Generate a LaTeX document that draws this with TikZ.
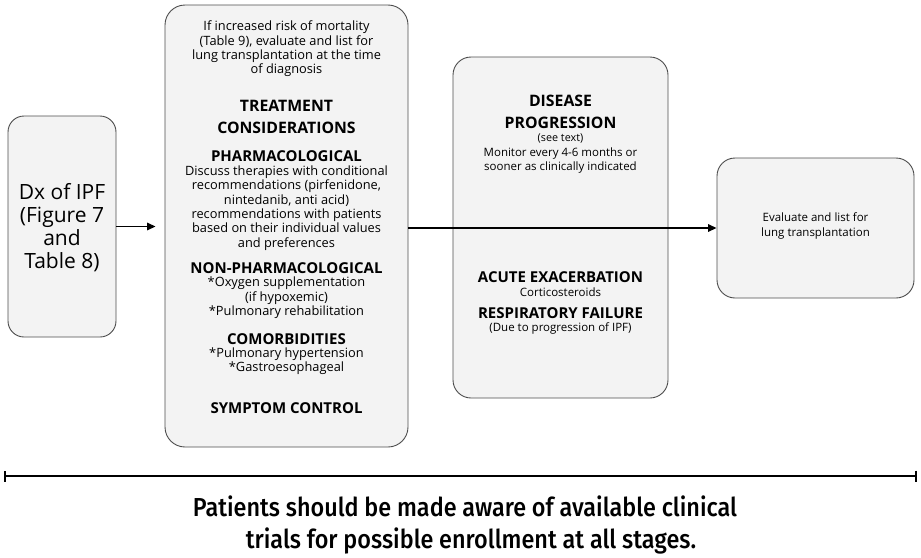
\documentclass[tikz,border=0pt]{standalone}
\usepackage{fontspec}
\setmainfont{Open Sans}
\newfontfamily\condfont{Fira Sans}[UprightFont=* Medium, FakeStretch=0.9]
\usetikzlibrary{arrows.meta}
\definecolor{boxfill}{HTML}{F3F3F3}
\definecolor{boxline}{HTML}{4D4D4D}
\tikzset{
  box/.style={draw=boxline, fill=boxfill, line width=0.9pt, inner sep=0pt},
  body/.style={align=center, font=\fontsize{12.8}{14.4}\selectfont, inner sep=0pt},
  small/.style={align=center, font=\fontsize{11.5}{14}\selectfont, inner sep=0pt},
  head/.style={align=center, font=\fontsize{15}{17}\selectfont\bfseries, inner sep=0pt},
  bighead/.style={align=center, font=\fontsize{15.8}{21.5}\selectfont\bfseries, inner sep=0pt},
  conn/.style={line width=1.5pt, -{Triangle[length=8.5pt,width=7.5pt]}},
  bottomtext/.style={font=\condfont\fontsize{26}{30}\selectfont, inner sep=0pt},
}
\begin{document}
\begin{tikzpicture}[x=1pt,y=-1pt]
\useasboundingbox (0,0) rectangle (921,557);
% boxes
\node[box, rounded corners=16pt, minimum width=108pt, minimum height=221pt] (dx) at (62,226.5) {};
\node[box, rounded corners=20pt, minimum width=243pt, minimum height=442pt] (mid) at (286.5,226) {};
\node[box, rounded corners=18pt, minimum width=215pt, minimum height=341pt] (dis) at (560.5,227.5) {};
\node[box, rounded corners=18pt, minimum width=197pt, minimum height=140pt] (rt) at (815.5,228) {};
% Dx text
\node[align=center, inner sep=0pt, font=\fontsize{21}{23}\selectfont] (dxt) at (62,228) {Dx of IPF\\(Figure 7\\and\\Table 8)};
% middle box texts
\node[body] (m1) at (286.5,49) {If increased risk of mortality\\(Table 9), evaluate and list for\\lung transplantation at the time\\of diagnosis};
\node[bighead] (m2) at (286.5,117) {TREATMENT\\CONSIDERATIONS};
\node[head] (m3) at (286.5,156) {PHARMACOLOGICAL};
\node[body] (m4) at (286.5,208) {Discuss therapies with conditional\\recommendations (pirfenidone,\\nintedanib, anti acid)\\recommendations with patients\\based on their individual values\\and preferences};
\node[head] (m5) at (286.5,268) {NON-PHARMACOLOGICAL};
\node[body] (m6) at (286.5,298) {*Oxygen supplementation\\(if hypoxemic)\\*Pulmonary rehabilitation};
\node[head] (m7) at (286.5,339) {COMORBIDITIES};
\node[body] (m8) at (286.5,361) {*Pulmonary hypertension\\*Gastroesophageal};
\node[head] (m9) at (286.5,408) {SYMPTOM CONTROL};
% disease box texts
\node[bighead] (d1) at (560.5,112) {DISEASE\\PROGRESSION};
\node[small, font=\fontsize{10.8}{14}\selectfont] (d2) at (560.5,138) {(see text)};
\node[small] (d3) at (560.5,161) {Monitor every 4-6 months or\\sooner as clinically indicated};
\node[head] (d4) at (560.5,277) {ACUTE EXACERBATION};
\node[small] (d5) at (560.5,292) {Corticosteroids};
\node[head] (d6) at (560.5,313) {RESPIRATORY FAILURE};
\node[small] (d7) at (560.5,328) {(Due to progression of IPF)};
% right box text
\node[small, font=\fontsize{11.5}{15}\selectfont] (r1) at (815.5,226) {Evaluate and list for\\lung transplantation};
% connectors
\draw[conn, shorten >=9pt] (dx.east) -- (dx.east -| mid.west);
\draw[conn] (rt.west -| mid.east) -- (rt.west);
% bottom line
\coordinate (bl) at (4,476);
\coordinate (br) at (917,476);
\draw[line width=1.8pt, {Bar[width=11pt]}-{Bar[width=11pt]}] (bl) -- (br);
\node[bottomtext] (p1) at (465,506) {Patients should be made aware of available clinical};
\node[bottomtext] (p2) at (471,541) {trials for possible enrollment at all stages.};
\end{tikzpicture}
\end{document}
